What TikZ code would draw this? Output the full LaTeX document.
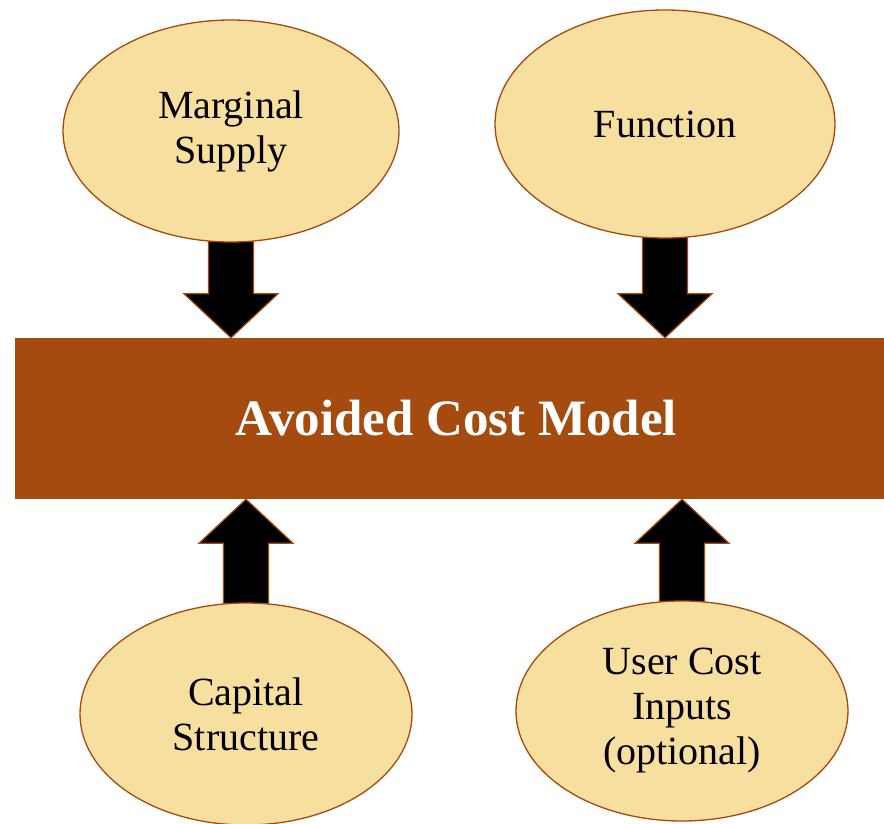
\documentclass[tikz,border=0pt]{standalone}
\usepackage{fontspec}
\setmainfont{Liberation Serif}
\usetikzlibrary{calc,shapes.geometric,backgrounds}

\definecolor{tanfill}{HTML}{F7DFA0}
\definecolor{rust}{HTML}{A64B0F}

\tikzset{
    source/.style={ellipse,draw=rust,line width=1.3pt,fill=tanfill,
        align=center,font=\fontsize{40}{45}\selectfont,inner sep=0pt},
    model/.style={rectangle,fill=rust,text=white,
        font=\fontsize{51}{58}\selectfont\bfseries},
    bigarrow/.style={fill=black,draw=rust,line width=1.2pt,line join=miter}
}

% fat block arrow: #1 start, #2 tip, #3 = 1 down / -1 up
\newcommand{\fatarrow}[3]{%
    \draw[bigarrow] let \p1=(#1), \p2=(#2) in
        (\x1-22.5pt,\y1) -- (\x1-22.5pt,\y2+#3*44pt) -- (\x1-47pt,\y2+#3*44pt)
        -- (\x1,\y2) -- (\x1+47pt,\y2+#3*44pt) -- (\x1+22.5pt,\y2+#3*44pt)
        -- (\x1+22.5pt,\y1) -- cycle;}

\begin{document}
\begin{tikzpicture}[x=1pt,y=-1pt]
            \clip (0,0) rectangle (884,824);

            \node[model,minimum width=883pt,minimum height=161pt] (acm) at (456.5,418.5) {Avoided Cost Model};

            \node[source,minimum width=336pt,minimum height=222pt] (ms) at (231,131) {Marginal\\Supply};
            \node[source,minimum width=340pt,minimum height=228pt] (fn) at (665,124) {Function};
            \node[source,minimum width=332pt,minimum height=222pt] (cs) at (246,714) {Capital\\Structure};
            \node[source,minimum width=332pt,minimum height=220pt] (uc) at (682,711) {User Cost\\Inputs\\(optional)};

            \begin{scope}[on background layer]
                \fatarrow{ms}{ms |- acm.north}{1}
                \fatarrow{fn}{fn |- acm.north}{1}
                \fatarrow{cs}{cs |- acm.south}{-1}
                \fatarrow{uc}{uc |- acm.south}{-1}
            \end{scope}
        \end{tikzpicture}
\end{document}
